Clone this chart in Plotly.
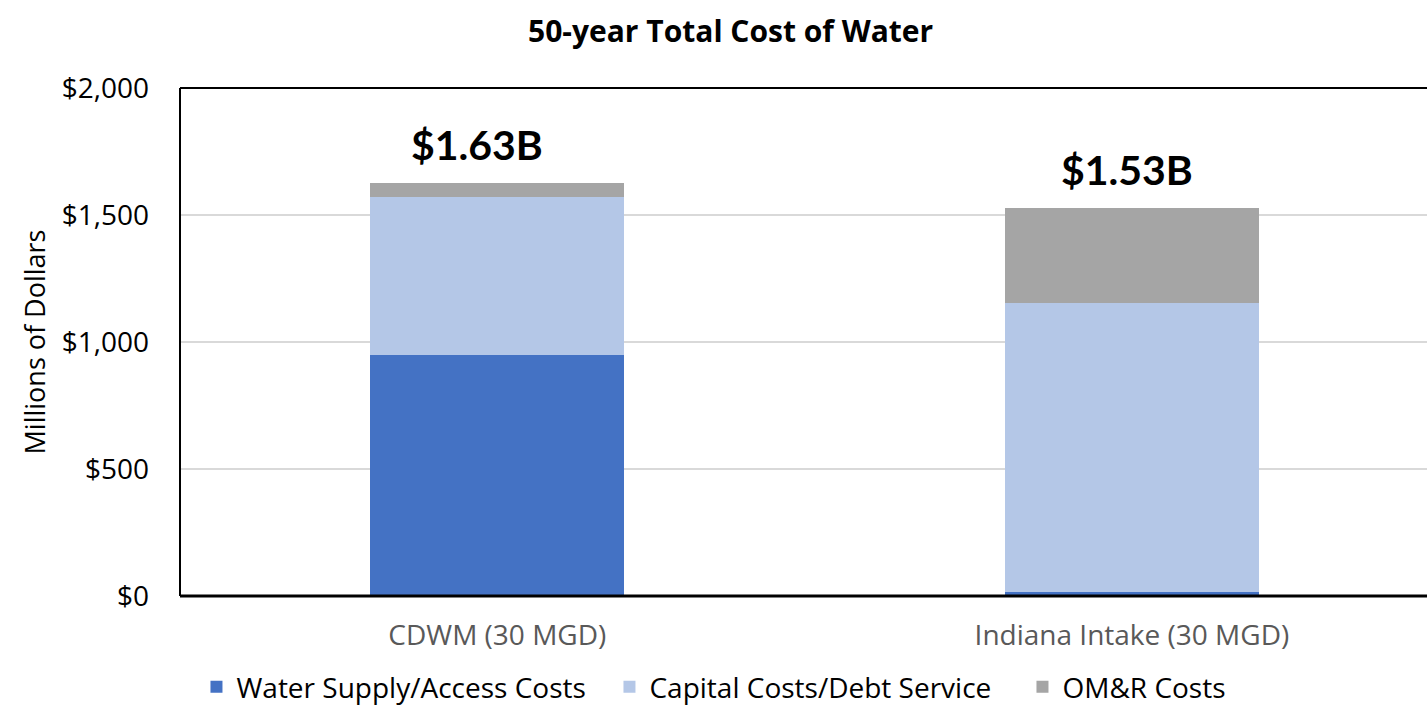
import plotly.graph_objects as go

categories = ["CDWM (30 MGD)", "Indiana Intake (30 MGD)"]
water_supply = [949, 16]
capital = [622, 1137]
omr = [55, 375]
series_names = ["Water Supply/Access Costs", "Capital Costs/Debt Service", "OM&R Costs"]
colors = ["#4472C4", "#B4C7E7", "#A5A5A5"]
total_labels = ["$1.63B", "$1.53B"]
y_ticks = [0, 500, 1000, 1500, 2000]
y_tick_text = ["$0", "$500", "$1,000", "$1,500", "$2,000"]

xpos = list(range(len(categories)))
fig = go.Figure()
for name, vals, col in zip(series_names, [water_supply, capital, omr], colors):
    fig.add_trace(go.Bar(x=xpos, y=vals, name=name, marker=dict(color=col, line=dict(width=0)),
                         width=0.40))

totals = [a + b + c for a, b, c in zip(water_supply, capital, omr)]
for i, (t, lab) in enumerate(zip(totals, total_labels)):
    fig.add_annotation(x=i, y=t, text=f"<b>{lab}</b>", showarrow=False, yanchor="bottom",
                       yshift=12, xshift=-20 if i == 0 else -5,
                       font=dict(family="Lato, DejaVu Sans", size=41, color="black"))

fig.update_layout(
    barmode="stack",
    width=1427, height=712,
    plot_bgcolor="white", paper_bgcolor="white",
    margin=dict(l=180, r=0, t=88, b=116, autoexpand=False),
    title=dict(text="<b>50-year Total Cost of Water</b>", x=0.512, xanchor="center",
               yref="container", y=0.956, yanchor="middle",
               font=dict(family="Open Sans, Liberation Sans", size=30, color="black")),
    font=dict(family="Open Sans, Liberation Sans", color="black"),
    legend=dict(orientation="h", x=0.51, xanchor="center",
                yref="container", y=0.035, yanchor="middle",
                font=dict(size=28, color="black"), traceorder="normal",
                itemsizing="constant", itemwidth=30, entrywidth=368),
    bargap=0.6,
)
fig.update_xaxes(range=[-0.5, 1.465], tickvals=xpos, ticktext=categories, showgrid=False,
                 tickfont=dict(size=28, color="#595959"), ticks="", ticklabelstandoff=20)
fig.update_yaxes(range=[0, 2000], tickvals=y_ticks, ticktext=y_tick_text, showgrid=True,
                 gridcolor="#D9D9D9", gridwidth=2, zeroline=False,
                 tickfont=dict(size=28, color="black"), ticks="", ticklabelstandoff=30,
                 title=dict(text="Millions of Dollars", font=dict(size=27, color="black"), standoff=8))
# frame lines: left, top, bottom
fig.add_shape(type="line", xref="paper", yref="paper", x0=0, x1=0, y0=0, y1=1, line=dict(color="black", width=2))
fig.add_shape(type="line", xref="paper", yref="paper", x0=0, x1=1, y0=1, y1=1, line=dict(color="black", width=2))
fig.add_shape(type="line", xref="paper", yref="paper", x0=0, x1=1, y0=0, y1=0, line=dict(color="black", width=3))

fig.write_html("out.html", config={"displayModeBar": False},
               post_script="document.body.style.margin='0px';document.body.style.overflow='hidden';")
